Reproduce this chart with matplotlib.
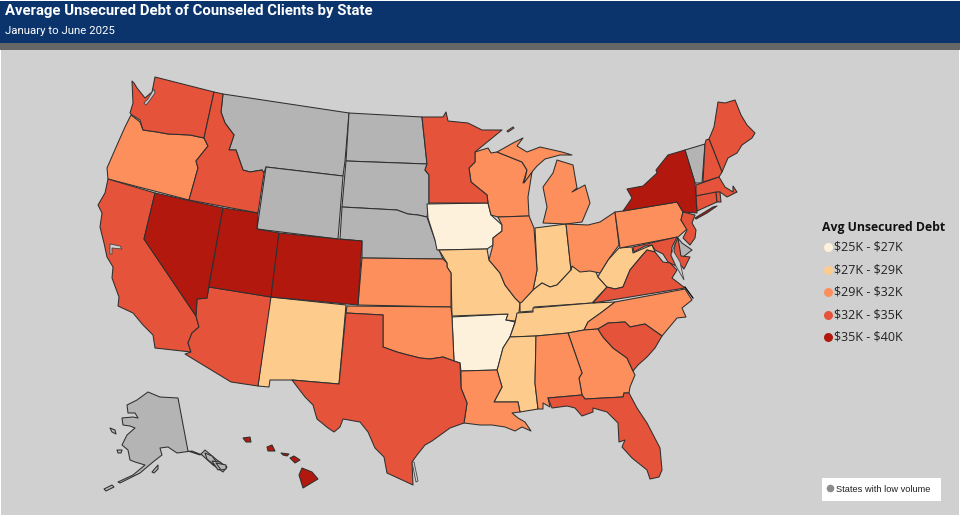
#!/usr/bin/env python3
import matplotlib
matplotlib.use('Agg')
import matplotlib.pyplot as plt
from matplotlib.patches import Rectangle

# State outlines (picture coordinates)
WA = [(132,81),(134,83),(137,88),(145,98),(152,92),(155,77),(214,92),(204,138),(190,135),(168,134),(157,132),(143,130),(140,120),(132,115),(130,113),(133,103)]
OR = [(131,115),(140,122),(143,130),(157,132),(168,134),(190,135),(204,138),(208,146),(196,161),(198,168),(189,200),(108,179),(107,168),(117,145),(125,127)]
CA = [(108,179),(155,193),(144,239),(196,316),(199,327),(192,333),(188,343),(191,352),(155,348),(153,335),(143,325),(133,313),(118,306),(119,297),(112,278),(113,267),(107,257),(104,243),(100,227),(102,213),(98,205),(105,193)]
NV = [(155,193),(223,208),(209,285),(207,298),(197,299),(196,316),(144,239)]
ID = [(214,92),(223,94),(221,112),(225,123),(234,135),(229,150),(236,150),(243,170),(250,172),(262,170),(264,173),(258,213),(189,200),(198,168),(196,161),(208,146),(204,138)]
MT = [(223,94),(349,113),(345,161),(343,176),(266,167),(264,173),(262,170),(250,172),(243,170),(236,150),(229,150),(234,135),(225,123),(221,112)]
WY = [(266,167),(343,176),(338,239),(257,229)]
UT = [(223,208),(258,213),(257,229),(279,233),(271,297),(209,287)]
CO = [(279,233),(338,239),(362,241),(358,305),(271,297)]
AZ = [(209,287),(271,297),(258,386),(231,382),(185,354),(191,352),(188,343),(192,333),(199,327),(196,316),(197,299),(207,298)]
NM = [(270,297),(346,305),(339,384),(292,380),(270,380),(269,387),(258,386)]
ND = [(349,113),(422,117),(427,164),(346,161)]
SD = [(346,161),(427,164),(425,170),(429,175),(429,203),(427,217),(418,215),(408,214),(397,210),(342,207)]
NE = [(342,207),(397,210),(408,214),(418,215),(427,217),(428,220),(435,240),(439,250),(443,259),(362,258),(362,241),(340,239)]
KS = [(362,258),(443,259),(447,263),(447,267),(451,273),(451,307),(358,305)]
OK = [(347,306),(451,307),(452,317),(454,361),(443,357),(430,359),(420,358),(408,355),(397,352),(383,347),(383,315),(346,313)]
TX = [(346,313),(383,315),(383,347),(397,352),(408,355),(420,358),(430,359),(443,357),(454,361),(460,363),(461,388),(467,403),(464,423),(450,428),(432,441),(425,445),(417,455),(412,462),(413,485),(400,479),(387,473),(384,457),(375,448),(368,432),(360,422),(343,419),(340,427),(334,432),(328,428),(317,419),(313,405),(305,397),(292,380),(339,384)]
LA = [(461,371),(497,370),(502,387),(494,402),(518,402),(520,412),(512,413),(518,418),(525,422),(531,431),(522,427),(515,431),(505,427),(492,425),(480,425),(464,423),(467,403),(461,388)]
AR = [(452,317),(508,314),(506,320),(515,322),(510,337),(503,348),(498,367),(497,370),(461,371),(460,363),(454,361)]
MO = [(439,250),(487,249),(489,260),(500,273),(505,285),(515,298),(520,303),(519,312),(515,321),(506,320),(508,314),(452,316),(451,273),(447,267),(447,263)]
IA = [(427,204),(488,203),(491,215),(502,225),(502,231),(493,238),(493,245),(487,249),(437,250),(435,240),(428,218)]
MN = [(422,117),(443,117),(446,112),(448,121),(468,123),(482,130),(502,130),(475,152),(475,162),(469,168),(471,182),(487,195),(488,203),(429,203),(429,175),(425,170),(427,164)]
WI = [(475,152),(488,148),(491,153),(497,152),(522,162),(527,170),(523,183),(532,172),(528,197),(529,216),(498,217),(491,215),(488,203),(487,195),(471,182),(469,168),(475,162)]
IL = [(498,217),(529,216),(534,228),(537,270),(533,290),(522,302),(520,303),(515,298),(505,285),(500,273),(489,260),(493,245),(493,238),(502,231),(502,225)]
IN = [(535,228),(566,224),(571,270),(557,285),(550,287),(542,283),(533,290),(537,270)]
MI = [(543,223),(566,224),(582,222),(590,203),(585,185),(572,192),(577,188),(573,165),(557,160),(553,173),(543,187),(547,207)]
MI_UP = [(497,152),(513,143),(523,138),(517,146),(527,152),(540,147),(562,152),(572,155),(560,155),(545,159),(537,166),(532,172),(524,183),(527,170),(522,162)]
ISLE_ROYALE = [(507,131),(513,127),(514,128),(508,132)]
OH = [(566,224),(588,225),(600,222),(615,212),(619,245),(608,260),(600,273),(590,271),(580,272),(572,266),(571,270)]
KY = [(520,303),(533,290),(542,283),(550,287),(557,285),(571,270),(572,266),(580,270),(595,270),(598,277),(607,287),(592,303),(534,307),(533,311),(520,312)]
WV = [(619,248),(632,247),(633,253),(647,247),(652,245),(655,252),(647,250),(640,258),(630,270),(623,287),(615,289),(607,287),(598,277),(600,273),(608,260)]
PA = [(615,212),(623,211),(677,202),(683,212),(681,220),(687,229),(678,237),(620,248)]
NY = [(623,211),(632,198),(627,189),(643,186),(657,173),(656,170),(668,155),(685,150),(695,183),(697,213),(683,212),(677,202)]
LI = [(695,218),(713,207),(717,206),(707,213),(696,219)]
VT = [(685,150),(705,144),(702,183),(695,183)]
NH = [(706,140),(709,139),(722,172),(719,177),(703,182),(705,144)]
ME = [(709,139),(714,127),(718,102),(725,103),(735,100),(741,115),(747,125),(755,133),(752,138),(742,145),(737,153),(728,158),(725,165),(722,172)]
MA = [(696,185),(719,177),(725,187),(733,192),(733,186),(737,192),(727,197),(720,192),(696,196)]
CT = [(696,196),(716,192),(717,202),(697,211)]
RI = [(716,192),(720,192),(721,202),(717,202)]
NJ = [(683,212),(695,215),(692,223),(696,230),(695,238),(690,245),(683,238),(687,230),(681,220)]
DE = [(677,237),(682,243),(692,250),(683,257),(680,257)]
MD = [(633,247),(677,237),(672,247),(671,256),(676,266),(668,262),(663,254),(655,250),(652,245),(645,246),(634,252)]
MD_E = [(678,238),(681,256),(690,257),(684,269),(678,262),(674,252),(675,244)]
VA = [(593,303),(607,287),(615,289),(623,287),(630,270),(640,258),(647,250),(655,252),(663,262),(670,263),(677,270),(672,278),(685,288)]
NC = [(685,289),(692,300),(682,308),(686,317),(677,318),(662,336),(645,324),(630,327),(625,322),(608,323),(598,329),(584,330),(588,322),(602,312),(615,302)]
TN = [(615,302),(602,312),(588,322),(584,330),(568,333),(536,336),(510,337),(515,323),(517,313),(533,312),(533,308),(592,303)]
SC = [(598,329),(608,323),(625,322),(630,327),(645,324),(662,336),(655,348),(647,357),(638,365),(633,371),(627,358),(613,348),(603,337)]
GA = [(568,333),(584,330),(598,329),(603,337),(613,348),(627,358),(633,371),(635,375),(630,387),(629,393),(624,393),(623,397),(585,399),(582,395),(579,378),(582,373)]
AL = [(536,336),(568,333),(582,373),(579,378),(582,395),(548,398),(550,407),(543,403),(543,409),(538,409),(535,383)]
MS = [(510,337),(536,336),(535,383),(538,409),(520,412),(518,402),(494,402),(502,387),(497,370),(498,367),(503,348)]
FL = [(548,398),(582,395),(585,399),(623,397),(624,393),(629,393),(637,408),(647,423),(660,448),(662,470),(659,477),(650,479),(647,470),(632,458),(622,447),(625,440),(619,442),(618,423),(607,412),(593,408),(593,412),(582,416),(575,408),(567,406),(552,408)]
AK = [(178,398),(188,451),(200,455),(205,450),(217,460),(227,467),(223,472),(213,465),(202,455),(192,451),(177,453),(168,447),(160,448),(162,455),(153,462),(140,473),(120,483),(118,482),(133,475),(145,465),(135,462),(130,460),(128,450),(122,445),(127,435),(135,428),(130,426),(123,425),(122,418),(133,417),(138,418),(135,413),(128,413),(127,405),(137,400),(148,392),(160,397)]
AK_ISLES = [[(104,489),(112,485),(114,487),(106,491)],[(110,428),(115,430),(116,434),(112,432)],[(117,450),(122,450),(121,453),(118,453)],[(152,472),(158,465),(158,469),(154,473)],
            [(205,453),(212,456),(218,464),(214,465),(207,459)],[(212,461),(220,462),(224,468),(218,470)],[(216,463),(226,465),(226,469),(221,470)]]
HI = [(302,468),(312,472),(318,479),(308,485),(303,488),(299,475)]
HI_ISLES = [[(243,438),(250,437),(251,442),(246,442)],[(267,447),(272,445),(275,451),(268,451)],[(281,453),(289,454),(287,456),(283,455)],[(290,458),(294,456),(300,460),(295,463)]]

# Water cut out of the states
SF_BAY = [(110,244),(120,246),(122,249),(112,248),(112,254),(110,254)]
PUGET = [(148,99),(154,89),(155,93),(150,100),(146,105),(144,103)]
DE_BAY = [(675,244),(671,255),(676,266),(684,280),(680,262),(674,252)]
PADRE = [(412,462),(416,482),(418,481),(414,462)]

state_shapes = {
    'WA': [WA], 'OR': [OR], 'CA': [CA], 'NV': [NV], 'ID': [ID], 'MT': [MT], 'WY': [WY], 'UT': [UT],
    'CO': [CO], 'AZ': [AZ], 'NM': [NM], 'ND': [ND], 'SD': [SD], 'NE': [NE], 'KS': [KS], 'OK': [OK],
    'TX': [TX], 'LA': [LA], 'AR': [AR], 'MO': [MO], 'IA': [IA], 'MN': [MN], 'WI': [WI], 'IL': [IL],
    'IN': [IN], 'MI': [MI, MI_UP, ISLE_ROYALE], 'OH': [OH], 'KY': [KY], 'WV': [WV], 'PA': [PA], 'NY': [NY, LI],
    'VT': [VT], 'NH': [NH], 'ME': [ME], 'MA': [MA], 'CT': [CT], 'RI': [RI], 'NJ': [NJ], 'DE': [DE],
    'MD': [MD, MD_E], 'VA': [VA], 'NC': [NC], 'TN': [TN], 'SC': [SC], 'GA': [GA], 'AL': [AL], 'MS': [MS],
    'FL': [FL], 'AK': [AK] + AK_ISLES, 'HI': [HI] + HI_ISLES,
}

# Which band each state falls in
low_volume = ['MT', 'WY', 'ND', 'SD', 'NE', 'VT', 'DE', 'AK']
band_25_27 = ['IA', 'AR']
band_27_29 = ['NM', 'MO', 'IN', 'KY', 'TN', 'WV', 'MS']
band_29_32 = ['OR', 'KS', 'OK', 'LA', 'WI', 'IL', 'MI', 'OH', 'PA', 'NC', 'GA', 'AL']
band_32_35 = ['WA', 'ID', 'CA', 'AZ', 'TX', 'MN', 'ME', 'NH', 'MA', 'CT', 'RI', 'NJ', 'MD', 'VA', 'SC', 'FL']
band_35_40 = ['NV', 'UT', 'CO', 'NY', 'HI']

band_labels = ['$25K - $27K', '$27K - $29K', '$29K - $32K', '$32K - $35K', '$35K - $40K']
band_colors = ['#fdf1dc', '#fdcc8c', '#fc8f5b', '#e5533a', '#b2180e']
low_color = '#b4b4b4'
bg_color = '#d0d0d0'
edge_color = '#2f2f2f'

plt.rcParams['font.family'] = ['Open Sans', 'DejaVu Sans']

fig = plt.figure(figsize=(9.6, 5.16), dpi=100, facecolor='white')
ax = fig.add_axes([0, 0, 1, 1])
ax.set_xlim(0, 960)
ax.set_ylim(516, 0)
ax.axis('off')

# Banner and background
ax.add_patch(Rectangle((1, 50), 958, 465, facecolor=bg_color, edgecolor='none', zorder=0))
ax.add_patch(Rectangle((0, 1), 960, 42, facecolor='#0b346c', edgecolor='none', zorder=1))
ax.add_patch(Rectangle((0, 43), 960, 7, facecolor='#666666', edgecolor='none', zorder=1))
ax.text(5, 11, 'Average Unsecured Debt of Counseled Clients by State', color='white',
        fontsize=10.7, fontweight='bold', family=['Roboto', 'DejaVu Sans'], va='center', zorder=2)
ax.text(5, 31, 'January to June 2025', color='white', fontsize=8.2,
        family=['Roboto', 'DejaVu Sans'], va='center', zorder=2)

# Map
def draw_states(names, color):
    for name in names:
        for shape in state_shapes[name]:
            xs, ys = zip(*shape)
            ax.fill(xs, ys, facecolor=color, edgecolor=edge_color, linewidth=0.75, joinstyle='round', zorder=3)

draw_states(low_volume, low_color)
bands = [band_25_27, band_27_29, band_29_32, band_32_35, band_35_40]
for names, color in zip(bands, band_colors):
    draw_states(names, color)

for water in [SF_BAY, PUGET, DE_BAY, PADRE]:
    xs, ys = zip(*water)
    ax.fill(xs, ys, facecolor=bg_color, edgecolor='#444444', linewidth=0.6, zorder=4)
ax.plot([685, 693], [287, 298], color='black', linewidth=0.9, zorder=4)

# Legend
ax.text(822, 228, 'Avg Unsecured Debt', fontsize=8.8, fontweight='bold', color='#111111', va='center', zorder=5)
legend_y = [247, 270, 292, 315, 337]
for y, label, color in zip(legend_y, band_labels, band_colors):
    ax.scatter([827.5], [y], s=42, color=color, linewidths=0, zorder=5)
    ax.text(834, y, label.replace('$', r'\$'), fontsize=9, color='#222222', va='center', zorder=5)

ax.add_patch(Rectangle((822, 478), 119, 23, facecolor='white', edgecolor='none', zorder=5))
ax.scatter([829.5], [488], s=30, color='#8c8c8c', linewidths=0, zorder=6)
ax.text(835.5, 489, 'States with low volume', fontsize=6.7, color='#222222', va='center',
        family=['Liberation Sans', 'DejaVu Sans'], zorder=6)

fig.savefig('out.png', dpi=100, facecolor='white')
